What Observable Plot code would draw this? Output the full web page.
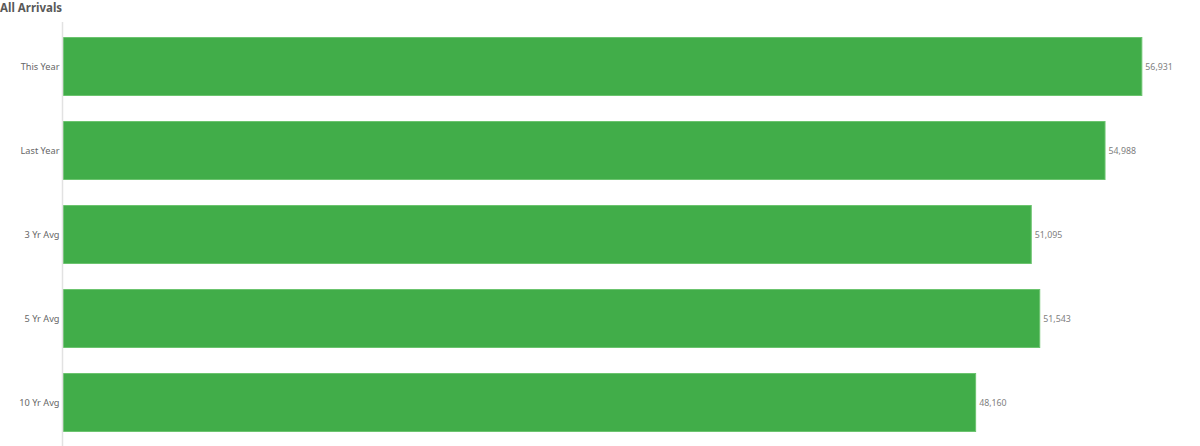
<!DOCTYPE html>
<html>
<head>
<meta charset="utf-8">
<script src="https://cdn.jsdelivr.net/npm/d3@7"></script>
<script src="https://cdn.jsdelivr.net/npm/@observablehq/plot@0.6"></script>
<style>
  html, body { margin: 0; padding: 0; background: #fff; }
  #title { height: 20px; line-height: 16px; font-family: "Noto Sans", sans-serif; font-weight: bold; font-size: 11.5px; color: #595959; padding-left: 0; }
  #chart svg { overflow: visible; display: block; }
</style>
</head>
<body>
<div id="title">All Arrivals</div>
<div id="chart"></div>
<script>
const categories = ["This Year", "Last Year", "3 Yr Avg", "5 Yr Avg", "10 Yr Avg"];
const values = [56931, 54988, 51095, 51543, 48160];

const data = categories.map((c, i) => ({category: c, value: values[i]}));
const fmt = d3.format(",");

const chart = Plot.plot({
  width: 1200,
  height: 426,
  marginTop: 2,
  marginBottom: 0,
  marginLeft: 63,
  marginRight: 0,
  style: {fontFamily: "'Noto Sans', sans-serif", fontSize: "9.5px", color: "#666", background: "#fff"},
  x: {domain: [0, 60000], axis: null},
  y: {domain: categories, paddingInner: 0.3, paddingOuter: 0.15, label: null},
  marks: [
    Plot.axisY({tickSize: 0, tickPadding: 4, label: null, fontSize: 9.2, fill: "#666"}),
    Plot.barX(data, {y: "category", x: "value", fill: "#41ad49", stroke: "#6cc46f", strokeWidth: 1, insetTop: 0.5, insetBottom: 0.5}),
    Plot.ruleX([0], {stroke: "#e2e2e2", strokeWidth: 1.5, dx: -1}),
    Plot.text(data, {y: "category", x: "value", text: d => fmt(d.value), textAnchor: "start", dx: 3, fill: "#808080", fontSize: 8.8})
  ]
});
document.getElementById("chart").appendChild(chart);
</script>
</body>
</html>
